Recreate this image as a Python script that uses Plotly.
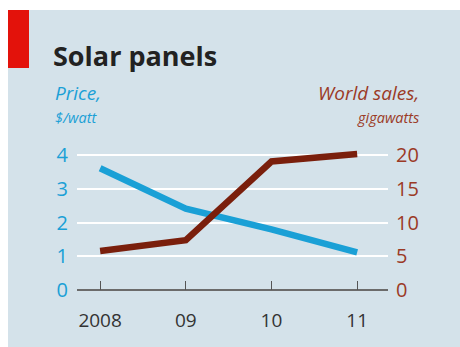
import plotly.graph_objects as go

years = ["2008", "09", "10", "11"]
price = [3.62, 2.42, 1.80, 1.12]        # $/watt
sales = [5.8, 7.4, 19.1, 20.2]          # gigawatts
price_ticks = [0, 1, 2, 3, 4]
sales_ticks = [0, 5, 10, 15, 20]

W, H = 460, 347
L, R, T, B = 77, 72, 142, 57
PW, PH = W - L - R, H - T - B

def px(x):
    return (x - L) / PW

def py(y):
    return (H - B - y) / PH

BG = "#d4e2ea"
BLUE = "#1aa0d6"
BROWN = "#7a1f0c"
BROWN_TXT = "#9b3a26"

xs = list(range(len(years)))

fig = go.Figure()
fig.add_trace(go.Scatter(x=xs, y=price, mode="lines",
                         line=dict(color=BLUE, width=6.5), yaxis="y"))
fig.add_trace(go.Scatter(x=xs, y=sales, mode="lines",
                         line=dict(color=BROWN, width=6.5), yaxis="y2"))

fig.update_layout(
    width=W, height=H,
    margin=dict(l=L, r=R, t=T, b=B, pad=0),
    paper_bgcolor=BG, plot_bgcolor=BG,
    showlegend=False,
    font=dict(family="Open Sans"),
    xaxis=dict(
        range=[-0.27, 3.36], tickmode="array", tickvals=xs, ticktext=years,
        showgrid=False, zeroline=False, showline=False,
        ticks="inside", ticklen=9, tickcolor="#555", tickwidth=1,
        tickfont=dict(size=19, color="#333333", family="Open Sans"),
        ticklabelstandoff=17,
    ),
    yaxis=dict(
        range=[0, 4.4], tickvals=price_ticks, showgrid=True, gridcolor="white",
        gridwidth=2, zeroline=True, zerolinecolor="#6b6b6b", zerolinewidth=1.5,
        showline=False, ticks="",
        tickfont=dict(size=20, color=BLUE, family="Open Sans"),
        ticklabelstandoff=8,
    ),
    yaxis2=dict(
        range=[0, 22], tickvals=sales_ticks, overlaying="y", side="right",
        showgrid=False, zeroline=False, showline=False, ticks="",
        tickfont=dict(size=20, color=BROWN_TXT, family="Open Sans"),
        ticklabelstandoff=7,
    ),
    title=dict(text="<b>Solar panels</b>", x=53 / W, xanchor="left",
               y=1 - 57 / H, yanchor="middle", xref="container", yref="container",
               font=dict(size=27, color="#222222", family="Open Sans")),
)

fig.add_shape(type="rect", xref="paper", yref="paper",
              x0=px(0), x1=px(8), y0=py(H), y1=py(0),
              fillcolor="white", line_width=0, layer="above")
fig.add_shape(type="rect", xref="paper", yref="paper",
              x0=px(0), x1=px(W), y0=py(10), y1=py(0),
              fillcolor="white", line_width=0, layer="above")
fig.add_shape(type="rect", xref="paper", yref="paper",
              x0=px(8), x1=px(29), y0=py(68), y1=py(10),
              fillcolor="#e3120b", line_width=0, layer="above")

fig.add_annotation(text="<i>Price,</i>", xref="paper", yref="paper",
                   x=px(53), y=py(93), xanchor="left", yanchor="middle",
                   showarrow=False, font=dict(size=19, color=BLUE))
fig.add_annotation(text="<i>$/watt</i>", xref="paper", yref="paper",
                   x=px(53), y=py(117), xanchor="left", yanchor="middle",
                   showarrow=False, font=dict(size=14.5, color=BLUE))
fig.add_annotation(text="<i>World sales,</i>", xref="paper", yref="paper",
                   x=px(421), y=py(93), xanchor="right", yanchor="middle",
                   showarrow=False, font=dict(size=19, color=BROWN_TXT))
fig.add_annotation(text="<i>gigawatts</i>", xref="paper", yref="paper",
                   x=px(421), y=py(117), xanchor="right", yanchor="middle",
                   showarrow=False, font=dict(size=14.5, color=BROWN_TXT))

fig.write_html("out.html")
